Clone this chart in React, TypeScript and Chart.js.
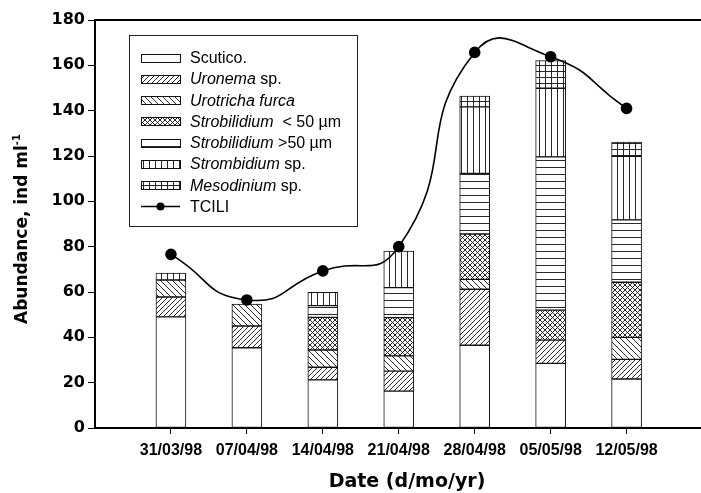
import React, { useEffect, useRef } from 'react';
import Chart from 'chart.js/auto';

// ---------- data ----------
const categories = ['31/03/98', '07/04/98', '14/04/98', '21/04/98', '28/04/98', '05/05/98', '12/05/98'];
const positions = [1, 2, 3, 4, 5, 6, 7];

const scutico = [49.0, 35.4, 21.2, 16.3, 36.5, 28.5, 21.6];
const uronema = [8.8, 9.6, 5.6, 8.8, 24.7, 10.3, 8.7];
const urotricha = [7.5, 9.7, 7.6, 6.7, 4.4, 0, 9.7];
const strobilidiumSmall = [0, 0, 14.4, 16.9, 20.0, 13.2, 24.3];
const strobilidiumLarge = [0, 0, 5.2, 13.2, 26.7, 67.6, 27.5];
const strombidium = [3.1, 0, 5.9, 16.2, 29.4, 30.3, 28.0];
const mesodinium = [0, 0, 0, 0, 4.7, 12.2, 6.3];
const tcili = [76.6, 56.5, 69.3, 80.0, 165.7, 163.8, 141.0];

const yTicks = [0, 20, 40, 60, 80, 100, 120, 140, 160, 180];

const seriesLabels = [
  'Scutico.',
  'Uronema sp.',
  'Urotricha furca',
  'Strobilidium  < 50 µm',
  'Strobilidium >50 µm',
  'Strombidium sp.',
  'Mesodinium sp.',
  'TCILI',
];
// legend text parts: [text, italic]
const legendParts: [string, boolean][][] = [
  [['Scutico.', false]],
  [['Uronema', true], [' sp.', false]],
  [['Urotricha furca', true]],
  [['Strobilidium', true], ['  < 50 µm', false]],
  [['Strobilidium', true], [' >50 µm', false]],
  [['Strombidium', true], [' sp.', false]],
  [['Mesodinium', true], [' sp.', false]],
  [['TCILI', false]],
];
const patternKinds = ['none', 'fwd', 'back', 'cross', 'horiz', 'vert', 'grid'];

const FONT = '"Liberation Sans", Arial, Helvetica, sans-serif';
const WIDE = '"DejaVu Sans", Verdana, sans-serif';

function makePattern(kind: string): CanvasPattern | string {
  if (kind === 'none') return '#ffffff';
  const c = document.createElement('canvas');
  let w = 6, h = 6;
  if (kind === 'fwd') { w = 5; h = 5; }
  if (kind === 'back') { w = 6; h = 6; }
  if (kind === 'cross') { w = 5; h = 5; }
  if (kind === 'horiz') { w = 4; h = 7; }
  if (kind === 'vert') { w = 6; h = 4; }
  if (kind === 'grid') { w = 6; h = 6; }
  c.width = w; c.height = h;
  const ctx = c.getContext('2d')!;
  ctx.fillStyle = '#fff';
  ctx.fillRect(0, 0, w, h);
  ctx.strokeStyle = '#111';
  ctx.lineWidth = 0.9;
  ctx.beginPath();
  const fwd = () => {
    ctx.moveTo(0, h); ctx.lineTo(w, 0);
    ctx.moveTo(-w, h); ctx.lineTo(0, 0);
    ctx.moveTo(w, 2 * h); ctx.lineTo(2 * w, h);
  };
  const back = () => {
    ctx.moveTo(0, 0); ctx.lineTo(w, h);
    ctx.moveTo(-w, 0); ctx.lineTo(0, h);
    ctx.moveTo(w, 0); ctx.lineTo(2 * w, h);
  };
  if (kind === 'fwd') fwd();
  if (kind === 'back') back();
  if (kind === 'cross') { fwd(); back(); }
  if (kind === 'horiz' || kind === 'grid') { ctx.moveTo(0, h - 0.5); ctx.lineTo(w, h - 0.5); }
  if (kind === 'vert' || kind === 'grid') { ctx.moveTo(w - 0.5, 0); ctx.lineTo(w - 0.5, h); }
  ctx.stroke();
  const p = ctx.createPattern(c, 'repeat');
  return p || '#fff';
}

const toPoints = (arr: number[]) =>
  positions.map((x, i) => ({ x, y: arr[i] === 0 ? null : arr[i] }));

export default function App() {
  const ref = useRef<HTMLCanvasElement | null>(null);

  useEffect(() => {
    if (!ref.current) return;
    const fills = patternKinds.map(makePattern);
    const barSeries = [scutico, uronema, urotricha, strobilidiumSmall, strobilidiumLarge, strombidium, mesodinium];

    const barDatasets: any[] = barSeries.map((arr, i) => ({
      type: 'bar',
      label: seriesLabels[i],
      data: toPoints(arr),
      backgroundColor: fills[i],
      borderColor: '#111',
      borderWidth: 1,
      borderSkipped: false,
      barThickness: 30,
      stack: 'ciliates',
      order: 1,
    }));

    const lineDataset: any = {
      type: 'line',
      label: seriesLabels[7],
      data: positions.map((x, i) => ({ x, y: tcili[i] })),
      borderColor: '#000',
      backgroundColor: '#000',
      borderWidth: 1.6,
      pointRadius: 5,
      pointBackgroundColor: '#000',
      pointBorderColor: '#000',
      tension: 0.55,
      stack: 'tcili',
      order: 0,
      clip: false,
    };

    const framePlugin = {
      id: 'frame',
      afterDraw(chart: any) {
        const ctx = chart.ctx as CanvasRenderingContext2D;
        const { left, right, top, bottom } = chart.chartArea;
        ctx.save();
        // top border line
        ctx.strokeStyle = '#000';
        ctx.lineWidth = 2;
        ctx.beginPath();
        ctx.moveTo(left - 1, top);
        ctx.lineTo(right, top);
        ctx.stroke();

        // legend box
        const bx = 129, by = 35, bw = 228, bh = 191;
        ctx.fillStyle = '#fff';
        ctx.fillRect(bx, by, bw, bh);
        ctx.strokeStyle = '#222';
        ctx.lineWidth = 1;
        ctx.strokeRect(bx + 0.5, by + 0.5, bw, bh);

        const ds = chart.data.datasets;
        const rowY0 = 57.5, step = 21.3;
        for (let i = 0; i < legendParts.length; i++) {
          const cy = rowY0 + i * step;
          const sx = 141, sw = 39, sh = 8;
          if (i < 7) {
            ctx.fillStyle = ds[i].backgroundColor;
            ctx.fillRect(sx, Math.round(cy - sh / 2), sw, sh);
            ctx.strokeStyle = '#111';
            ctx.lineWidth = 1;
            ctx.strokeRect(sx + 0.5, Math.round(cy - sh / 2) + 0.5, sw, sh);
          } else {
            ctx.strokeStyle = '#000';
            ctx.lineWidth = 1.5;
            ctx.beginPath();
            ctx.moveTo(sx, cy);
            ctx.lineTo(sx + sw, cy);
            ctx.stroke();
            ctx.fillStyle = '#000';
            ctx.beginPath();
            ctx.arc(sx + sw / 2, cy, 4, 0, Math.PI * 2);
            ctx.fill();
          }
          let tx = 190;
          ctx.fillStyle = '#000';
          ctx.textBaseline = 'middle';
          ctx.textAlign = 'left';
          for (const [t, it] of legendParts[i]) {
            ctx.font = `${it ? 'italic ' : ''}16px ${FONT}`;
            ctx.fillText(t, tx, cy + 1);
            tx += ctx.measureText(t).width;
          }
        }

        // x axis title
        ctx.font = `bold 19px ${WIDE}`;
        ctx.textAlign = 'center';
        ctx.textBaseline = 'middle';
        ctx.fillStyle = '#000';
        ctx.fillText('Date (d/mo/yr)', 407, 482);

        // y axis title with superscript
        const main = 'Abundance, ind ml';
        const sup = '-1';
        ctx.font = `bold 17px ${WIDE}`;
        const mw = ctx.measureText(main).width;
        ctx.font = `bold 10px ${WIDE}`;
        const sw2 = ctx.measureText(sup).width;
        const total = mw + sw2;
        ctx.translate(23, 229);
        ctx.rotate(-Math.PI / 2);
        ctx.textBaseline = 'middle';
        ctx.textAlign = 'left';
        ctx.font = `bold 17px ${WIDE}`;
        ctx.fillText(main, -total / 2, 0);
        ctx.font = `bold 10px ${WIDE}`;
        ctx.fillText(sup, -total / 2 + mw, -6);
        ctx.restore();
      },
    };

    const chart = new Chart(ref.current, {
      type: 'bar',
      data: { datasets: [...barDatasets, lineDataset] },
      options: {
        animation: false,
        responsive: false,
        devicePixelRatio: 1,
        layout: { autoPadding: false, padding: { top: 20, right: 0, left: 0, bottom: 0 } },
        plugins: { legend: { display: false }, tooltip: { enabled: false } },
        scales: {
          x: {
            type: 'linear',
            offset: false,
            min: 0,
            max: 7.98,
            stacked: true,
            afterFit: (s: any) => { s.height = 65; },
            afterBuildTicks: (s: any) => { s.ticks = positions.map((v) => ({ value: v })); },
            grid: { offset: false, drawOnChartArea: false, drawTicks: true, tickLength: 6, color: '#000', tickColor: '#000' },
            border: { display: true, color: '#000', width: 2 },
            ticks: {
              autoSkip: false,
              maxRotation: 0,
              padding: 7,
              color: '#000',
              font: { family: FONT, size: 16, weight: 'bold' },
              callback: (v: any) => {
                const idx = positions.indexOf(Number(v));
                return idx >= 0 ? categories[idx] : '';
              },
            },
            title: { display: false },
          },
          y: {
            type: 'linear',
            min: 0,
            max: 180,
            stacked: true,
            afterFit: (s: any) => { s.width = 95; },
            afterBuildTicks: (s: any) => { s.ticks = yTicks.map((v) => ({ value: v })); },
            grid: { drawOnChartArea: false, drawTicks: true, tickLength: 7, color: '#000', tickColor: '#000' },
            border: { display: true, color: '#000', width: 2 },
            ticks: {
              padding: 3,
              color: '#000',
              font: { family: WIDE, size: 16, weight: 'bold' },
            },
          },
        },
      } as any,
      plugins: [framePlugin],
    });

    return () => chart.destroy();
  }, []);

  return (
    <div style={{ position: 'fixed', left: 0, top: 0, width: 701, height: 493, background: '#fff' }}>
      <canvas ref={ref} width={701} height={493} />
    </div>
  );
}
